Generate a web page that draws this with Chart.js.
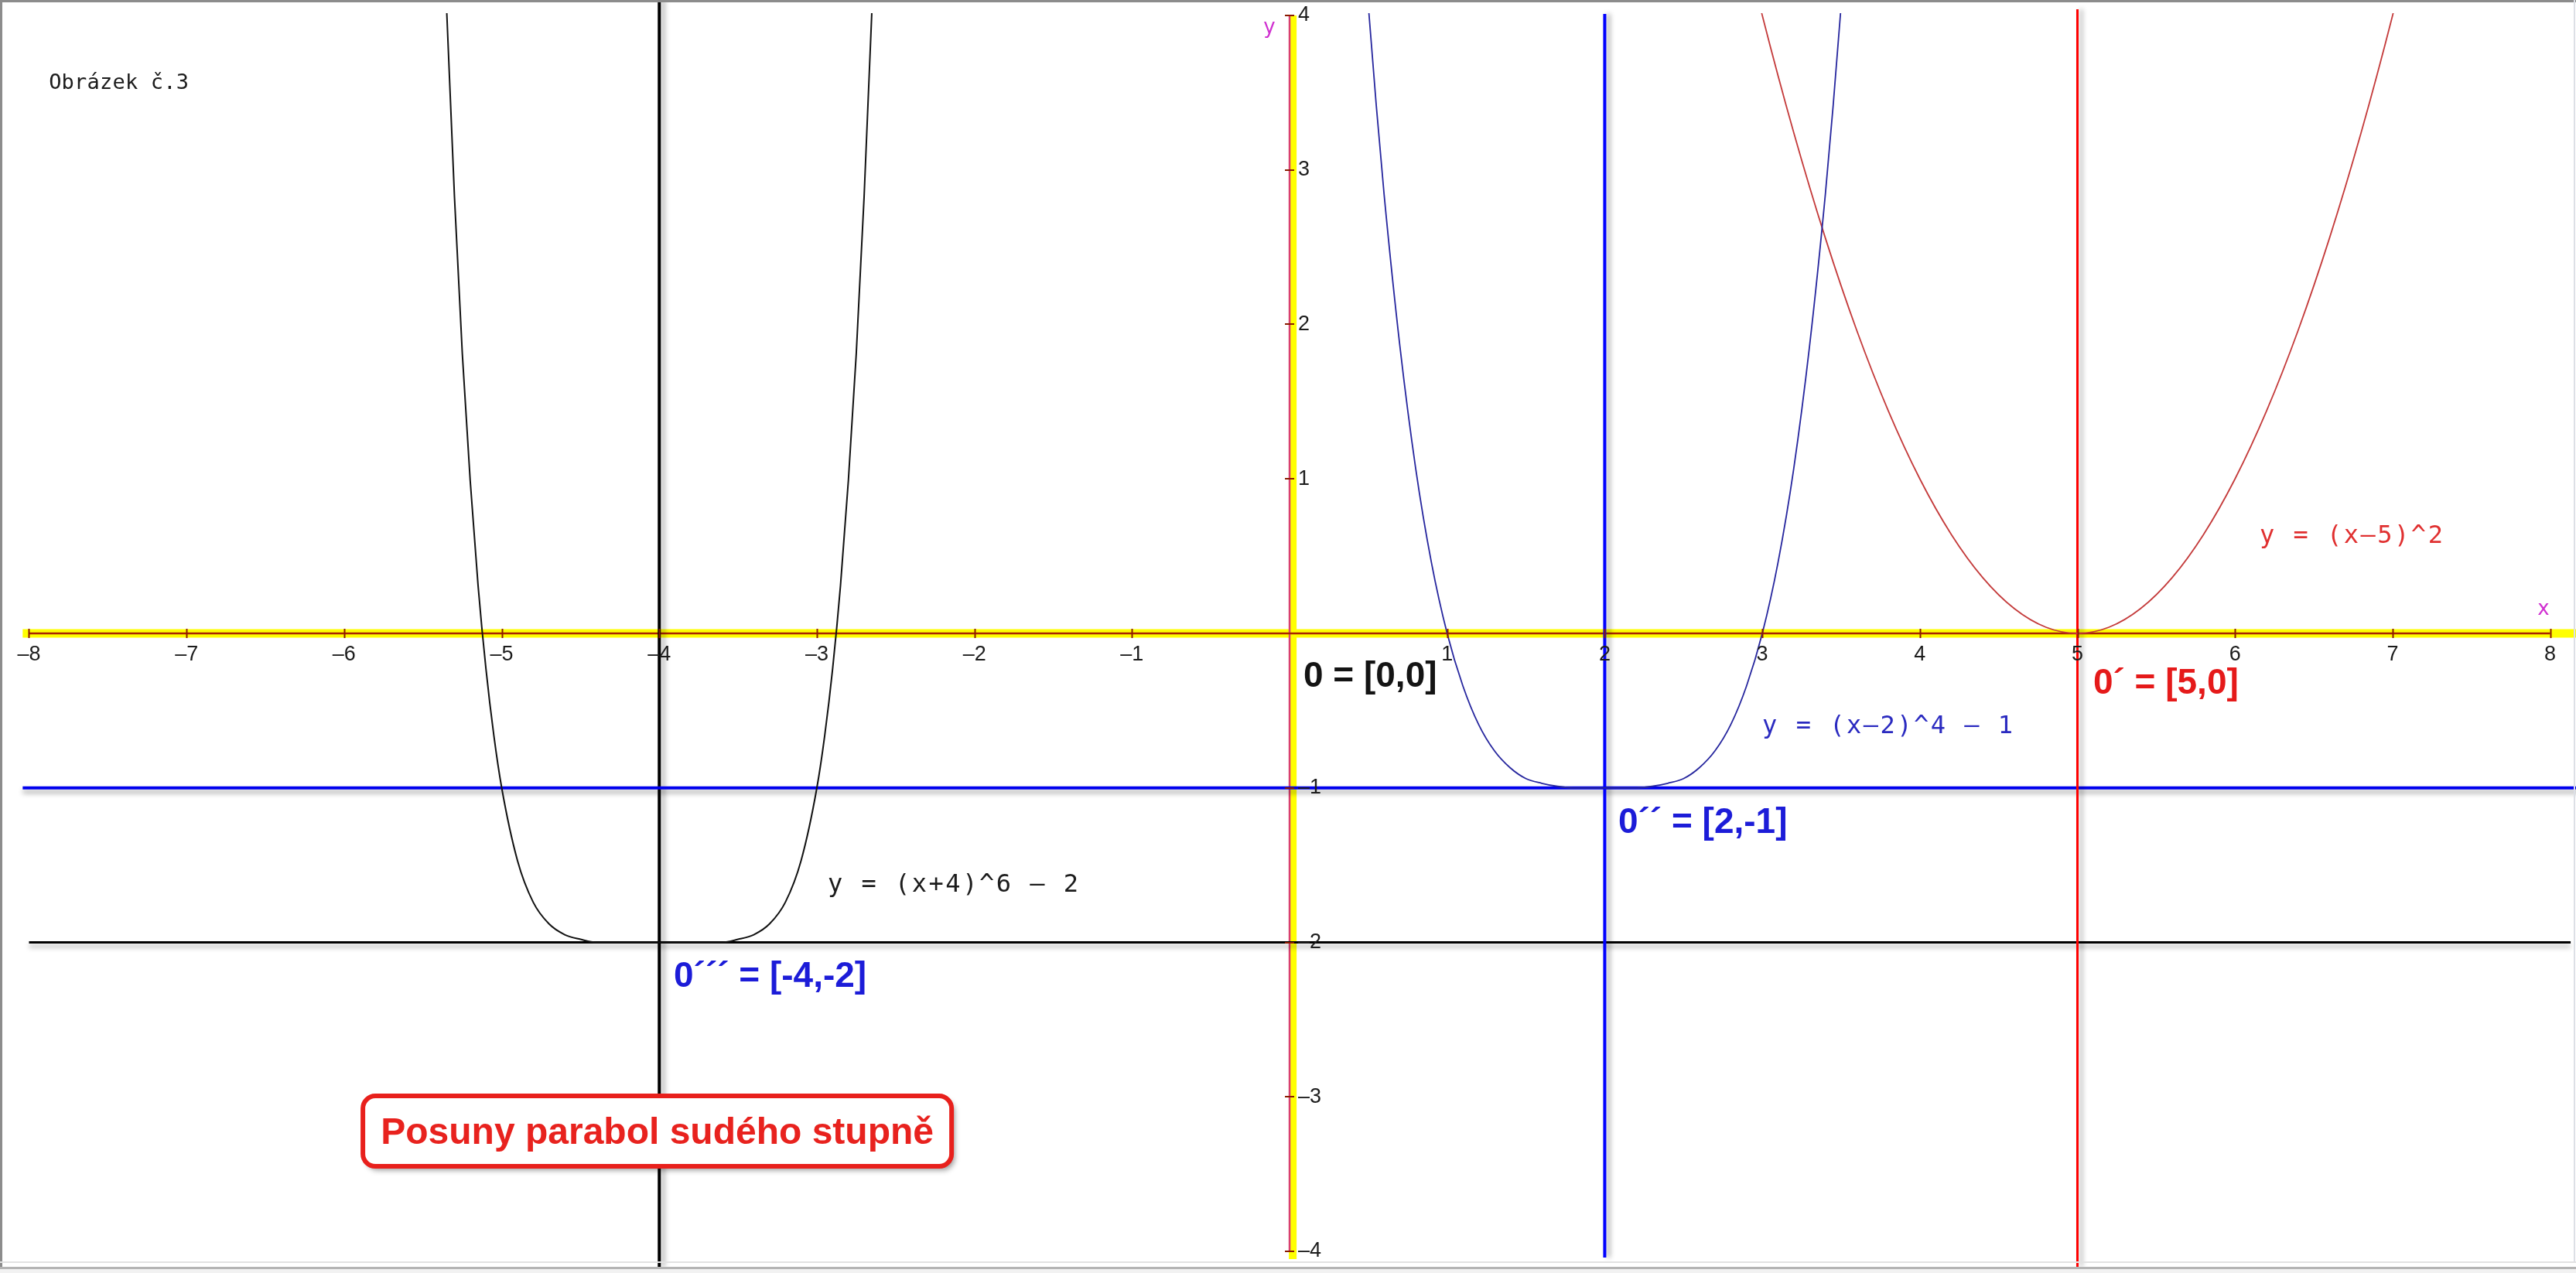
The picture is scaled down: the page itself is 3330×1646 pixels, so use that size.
<!DOCTYPE html>
<html>
<head>
<meta charset="utf-8">
<title>Posuny parabol sudého stupně</title>
<script src="https://cdn.jsdelivr.net/npm/chart.js@4.4.1/dist/chart.umd.min.js"></script>
<style>
  html, body { margin: 0; padding: 0; background: #fff; overflow: hidden; }
  canvas { display: block; }
</style>
</head>
<body>
<canvas id="graf" width="3330" height="1646"></canvas>
<script>
// ticks on both axes
const xTicks = [-8, -7, -6, -5, -4, -3, -2, -1, 1, 2, 3, 4, 5, 6, 7, 8];
const yTicks = [-4, -3, -2, -1, 1, 2, 3, 4];

// y = (x+4)^6 - 2
const blackX = [-5.45, -5.4, -5.35, -5.3, -5.25, -5.2, -5.15, -5.1, -5.05, -5.0,
  -4.9, -4.8, -4.7, -4.6, -4.5, -4.4, -4.3, -4.2, -4.0,
  -3.8, -3.7, -3.6, -3.5, -3.4, -3.3, -3.2, -3.1,
  -3.0, -2.95, -2.9, -2.85, -2.8, -2.75, -2.7, -2.65, -2.6, -2.55];
const blackY = [7.29, 5.53, 4.05, 2.83, 1.81, 0.99, 0.31, -0.23, -0.66, -1.00,
  -1.47, -1.74, -1.88, -1.95, -1.98, -2.00, -2.00, -2.00, -2.00,
  -2.00, -2.00, -2.00, -1.98, -1.95, -1.88, -1.74, -1.47,
  -1.00, -0.66, -0.23, 0.31, 0.99, 1.81, 2.83, 4.05, 5.53, 7.29];

// y = (x-2)^4 - 1
const blueX = [0.4, 0.45, 0.5, 0.55, 0.6,
  0.7, 0.8, 0.9, 1.0, 1.1, 1.2, 1.3, 1.4, 1.5, 1.6, 1.7, 1.8, 2.0,
  2.2, 2.3, 2.4, 2.5, 2.6, 2.7, 2.8, 2.9, 3.0, 3.1, 3.2, 3.3,
  3.4, 3.45, 3.5, 3.55, 3.6];
const blueY = [5.55, 4.77, 4.06, 3.42, 2.84,
  1.86, 1.07, 0.46, 0.00, -0.34, -0.59, -0.76, -0.87, -0.94, -0.97, -0.99, -1.00, -1.00,
  -1.00, -0.99, -0.97, -0.94, -0.87, -0.76, -0.59, -0.34, 0.00, 0.46, 1.07, 1.86,
  2.84, 3.42, 4.06, 4.77, 5.55];

// y = (x-5)^2
const redX = [2.8, 3.0, 3.2, 3.4, 3.6, 3.8, 4.0, 4.2, 4.4, 4.6, 4.8, 5.0,
  5.2, 5.4, 5.6, 5.8, 6.0, 6.2, 6.4, 6.6, 6.8, 7.0, 7.2];
const redY = [4.84, 4.00, 3.24, 2.56, 1.96, 1.44, 1.00, 0.64, 0.36, 0.16, 0.04, 0.00,
  0.04, 0.16, 0.36, 0.64, 1.00, 1.44, 1.96, 2.56, 3.24, 4.00, 4.84];

// shifted origins 0, 0´, 0´´, 0´´´
const originX = [0, 5, 2, -4];
const originY = [0, 0, -1, -2];

const pts = (xs, ys) => xs.map((x, i) => ({ x: x, y: ys[i] }));
const dash = v => (v < 0 ? '\u2013' + Math.abs(v) : String(v));

const notes = [
  { text: 'Obrázek č.3', x: -7.874, y: 3.524, font: '27px "DejaVu Sans Mono"', color: '#1c1c1c', spacing: 0.2 },
  { text: 'y', x: -0.128, y: 3.885, font: '26px "DejaVu Sans"', color: '#d030d0', align: 'center' },
  { text: 'x', x: 7.958, y: 0.120, font: '26px "DejaVu Sans"', color: '#d030d0', align: 'center' },
  { text: '0 = [0,0]', x: 0.088, y: -0.345, font: 'bold 46px "Liberation Sans"', color: '#141414' },
  { text: '0´ = [5,0]', x: 5.10, y: -0.390, font: 'bold 46px "Liberation Sans"', color: '#e51a1a' },
  { text: '0´´ = [2,-1]', x: 2.086, y: -1.292, font: 'bold 46px "Liberation Sans"', color: '#1c1cd8' },
  { text: '0´´´ = [-4,-2]', x: -3.908, y: -2.288, font: 'bold 46px "Liberation Sans"', color: '#1c1cd8' },
  { text: 'y = (x+4)^6 \u2013 2', x: -2.931, y: -1.672, font: '32px "DejaVu Sans Mono"', color: '#1c1c1c', spacing: 2.5 },
  { text: 'y = (x\u20132)^4 \u2013 1', x: 3.0, y: -0.646, font: '32px "DejaVu Sans Mono"', color: '#2b2bc0', spacing: 2.5 },
  { text: 'y = (x\u20135)^2', x: 6.156, y: 0.586, font: '32px "DejaVu Sans Mono"', color: '#e03030', spacing: 2.5 }
];
const boxNote = { text: 'Posuny parabol sudého stupně', x: -4.013, y: -3.222, w: 761, h: 91 };

function curve(xs, ys, color, width) {
  return {
    data: pts(xs, ys), showLine: true, borderColor: color, borderWidth: width,
    pointRadius: 0, cubicInterpolationMode: 'monotone', order: 1,
    clip: { left: 0, top: -17, right: 0, bottom: 0 }
  };
}
function guide(data, color, width, order, shadow) {
  return {
    data: data, showLine: true, borderColor: color, borderWidth: width,
    pointRadius: 0, order: order, shadow: shadow, borderCapStyle: 'butt'
  };
}

const datasets = [
  curve(blackX, blackY, '#111111', 2),
  curve(blueX, blueY, '#26269e', 1.8),
  curve(redX, redY, '#c43a3a', 1.8),
  guide([{ x: originX[1], y: 4.04 }, { x: originX[1], y: -4.1 }], '#ff0000', 3, 5, 'x'),
  guide([{ x: originX[2], y: 4.01 }, { x: originX[2], y: -4.04 }], '#0000ff', 4, 5, 'x'),
  guide([{ x: -8.04, y: originY[2] }, { x: 8.2, y: originY[2] }], '#0000ee', 4, 5, 'y'),
  guide([{ x: originX[3], y: 4.1 }, { x: originX[3], y: -4.1 }], '#000000', 4, 5, 'x'),
  guide([{ x: -8.0, y: originY[3] }, { x: 8.13, y: originY[3] }], '#000000', 3, 5, 'y'),
  guide([{ x: -8, y: originY[0] }, { x: 8, y: originY[0] }], '#a82400', 2.5, 8),
  guide([{ x: originX[0], y: 4 }, { x: originX[0], y: -4 }], '#d84070', 2.5, 8),
  guide([{ x: -8.04, y: originY[0] }, { x: 8.2, y: originY[0] }], '#ffff00', 11, 10),
  guide([{ x: 0.02, y: 4 }, { x: 0.02, y: -4.05 }], '#ffff00', 10, 10)
];

const paper = {
  id: 'paper',
  beforeDraw(chart) {
    const ctx = chart.ctx;
    ctx.save();
    ctx.fillStyle = '#ffffff';
    ctx.fillRect(0, 0, chart.width, chart.height);
    ctx.restore();
  },
  beforeDatasetDraw(chart, args) {
    const ds = chart.data.datasets[args.index];
    const ctx = chart.ctx;
    ctx.save();
    if (ds.shadow) {
      ctx.shadowColor = 'rgba(0,0,0,0.35)';
      ctx.shadowBlur = 6;
      ctx.shadowOffsetX = ds.shadow === 'x' ? 5 : 0;
      ctx.shadowOffsetY = ds.shadow === 'y' ? 5 : 0;
    }
  },
  afterDatasetDraw(chart) {
    chart.ctx.restore();
  },
  afterDatasetsDraw(chart) {
    const ctx = chart.ctx;
    const sx = chart.scales.x, sy = chart.scales.y;
    const x0 = sx.getPixelForValue(0), y0 = sy.getPixelForValue(0);
    ctx.save();
    // tick marks
    ctx.strokeStyle = '#8a1a00';
    ctx.lineWidth = 2;
    ctx.beginPath();
    xTicks.forEach(v => {
      const px = Math.round(sx.getPixelForValue(v)) + 0.5;
      ctx.moveTo(px, y0 - 6); ctx.lineTo(px, y0 + 6);
    });
    yTicks.forEach(v => {
      const py = Math.round(sy.getPixelForValue(v));
      ctx.moveTo(x0 - 6, py); ctx.lineTo(x0 + 6, py);
    });
    ctx.stroke();
    // tick labels
    ctx.fillStyle = '#1c1c1c';
    ctx.font = '27px "Liberation Sans"';
    ctx.textBaseline = 'middle';
    ctx.textAlign = 'center';
    xTicks.forEach(v => ctx.fillText(dash(v), sx.getPixelForValue(v), y0 + 28));
    ctx.textAlign = 'left';
    yTicks.forEach(v => ctx.fillText(dash(v), x0 + 11, sy.getPixelForValue(v)));

    // text notes
    ctx.textBaseline = 'alphabetic';
    notes.forEach(n => {
      ctx.font = n.font;
      ctx.fillStyle = n.color;
      ctx.textAlign = n.align || 'left';
      ctx.letterSpacing = (n.spacing || 0) + 'px';
      ctx.fillText(n.text, sx.getPixelForValue(n.x), sy.getPixelForValue(n.y));
    });
    ctx.letterSpacing = '0px';

    // framed title
    const bx = sx.getPixelForValue(boxNote.x), by = sy.getPixelForValue(boxNote.y);
    ctx.save();
    ctx.shadowColor = 'rgba(0,0,0,0.4)';
    ctx.shadowBlur = 7;
    ctx.shadowOffsetX = 4;
    ctx.shadowOffsetY = 5;
    ctx.beginPath();
    ctx.roundRect(bx - boxNote.w / 2, by - boxNote.h / 2, boxNote.w, boxNote.h, 16);
    ctx.fillStyle = '#ffffff';
    ctx.fill();
    ctx.restore();
    ctx.beginPath();
    ctx.roundRect(bx - boxNote.w / 2, by - boxNote.h / 2, boxNote.w, boxNote.h, 16);
    ctx.lineWidth = 6;
    ctx.strokeStyle = '#e8201c';
    ctx.stroke();
    ctx.fillStyle = '#e8221e';
    ctx.font = 'bold 48px "Liberation Sans"';
    ctx.textAlign = 'center';
    ctx.fillText(boxNote.text, bx, by + 16);
    ctx.restore();
  },
  afterDraw(chart) {
    const ctx = chart.ctx, w = chart.width, h = chart.height;
    ctx.save();
    ctx.fillStyle = '#8c8c8c';
    ctx.fillRect(0, 0, w, 3);
    ctx.fillRect(0, 0, 3, h);
    ctx.fillStyle = '#e2e2e2';
    ctx.fillRect(0, 1631, w, 2);
    ctx.fillStyle = '#b4b4b4';
    ctx.fillRect(0, 1638, w, 3);
    ctx.fillStyle = '#f2f2f2';
    ctx.fillRect(0, 1641, w, h - 1641);
    ctx.fillStyle = '#dde0e6';
    ctx.fillRect(w - 3, 0, 2, 1631);
    ctx.restore();
  }
};

new Chart(document.getElementById('graf'), {
  type: 'scatter',
  data: { datasets: datasets },
  options: {
    responsive: false,
    devicePixelRatio: 1,
    animation: false,
    layout: { padding: 0 },
    plugins: { legend: { display: false }, tooltip: { enabled: false } },
    scales: {
      x: { type: 'linear', min: -8.184, max: 8.164, display: false },
      y: { type: 'linear', min: -4.140, max: 4.100, display: false }
    }
  },
  plugins: [paper]
});
</script>
</body>
</html>
